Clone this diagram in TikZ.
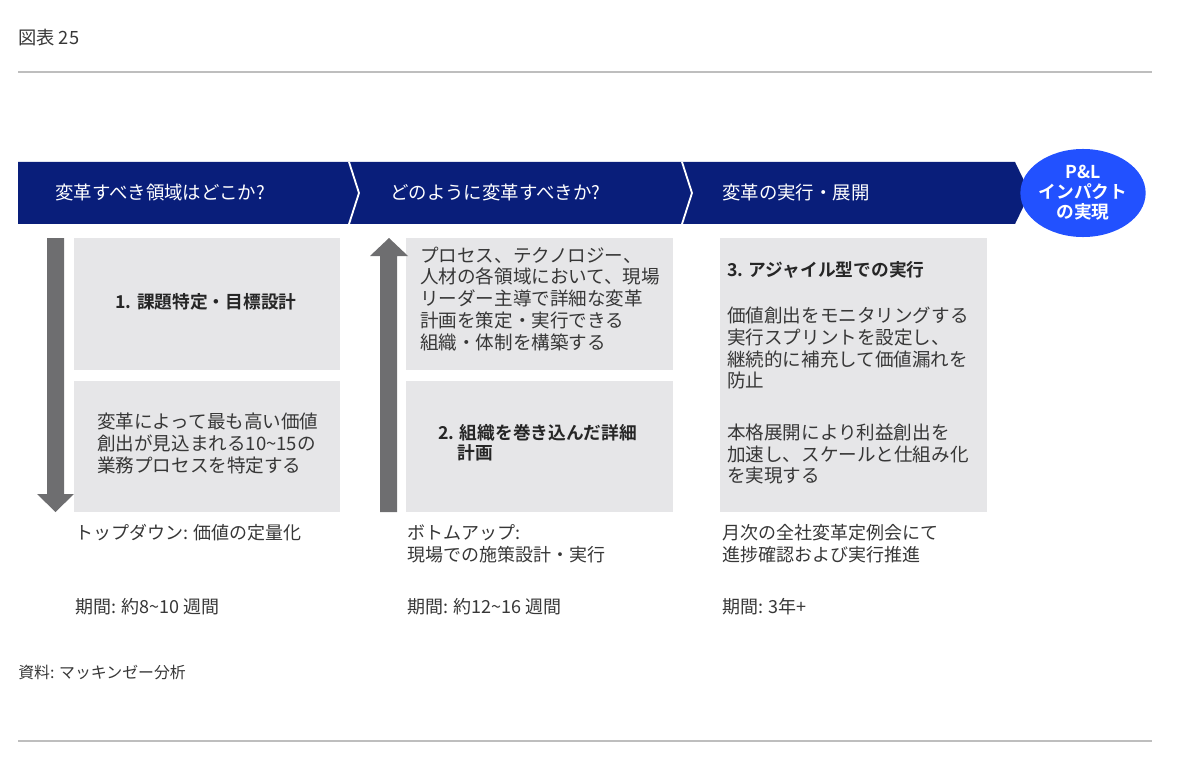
\documentclass[tikz,border=0pt]{standalone}
\usepackage{fontspec}
\setmainfont{Noto Sans CJK JP}[BoldFont={Noto Sans CJK JP Bold}]
\usepackage{tikz}
\usetikzlibrary{shapes,arrows,positioning}

\definecolor{navy}{RGB}{9,30,122}
\definecolor{eblue}{RGB}{34,81,255}
\definecolor{boxgray}{RGB}{230,230,232}
\definecolor{arrowgray}{RGB}{110,110,112}
\definecolor{txtgray}{RGB}{55,55,55}
\definecolor{rulegray}{RGB}{190,190,190}

\begin{document}
\begin{tikzpicture}[x=0.025cm,y=-0.025cm]
				\tikzstyle{Box}		= [fill=boxgray, inner sep=0pt]
				\tikzstyle{Body}	= [inner sep=0pt, anchor=west, align=left, text=txtgray, font=\fontsize{13.2}{15.6}\selectfont]
				\tikzstyle{Title}	= [Body, text=black!85, font=\bfseries\fontsize{12.6}{14.4}\selectfont]
				\tikzstyle{Head}	= [inner sep=0pt, anchor=west, text=white, font=\fontsize{13.1}{15}\selectfont]
				\tikzstyle{Foot}	= [Body, font=\fontsize{12.8}{15.6}\selectfont]
				\tikzstyle{Arrow}	= [fill=arrowgray]
				\tikzstyle{Rule}	= [rulegray, line width=0.8pt]

				\useasboundingbox (0,0) rectangle (1200,774);

				\node (fig) at (18,38) [Foot, font=\fontsize{13}{14}\selectfont] {図表 25};
				\draw[Rule] (18,72) -- (1152,72);
				\draw[Rule] (18,741) -- (1152,741);

				% band
				\fill[navy] (18,162) -- (1015,162) -- (1030,193) -- (1015,224) -- (18,224) -- cycle;
				\draw[white, line width=1.3pt] (349,162) -- (359,193) -- (349,224);
				\draw[white, line width=1.3pt] (682,162) -- (692,193) -- (682,224);
				\node (h1) at (55,193) [Head] {変革すべき領域はどこか?};
				\node (h2) at (390,193) [Head] {どのように変革すべきか?};
				\node (h3) at (722,193) [Head] {変革の実行・展開};
				\node (pl) at (1083,193) [ellipse, fill=eblue, minimum width=2.85cm, minimum height=2.2cm, inner sep=0pt,
					text=white, align=center, font=\bfseries\fontsize{12.6}{14.2}\selectfont] {P\&L\\インパクト\\の実現};

				% column 1
				\node (b1) at (207,304) [Box, minimum width=6.65cm, minimum height=3.3cm] {};
				\node (b2) at (207,446.5) [Box, minimum width=6.65cm, minimum height=3.275cm] {};
				\fill[Arrow] (47,238) -- (64,238) -- (64,494) -- (74,494) -- (55.5,512) -- (37,494) -- (47,494) -- cycle;
				\node (t1) at (206,302) [Title, anchor=center] {1. 課題特定・目標設計};
				\node (t2) at (97,443.5) [Body] {変革によって最も高い価値\\創出が見込まれる10\textasciitilde 15の\\業務プロセスを特定する};
				\node (f1) at (75,533) [Foot] {トップダウン: 価値の定量化};
				\node (d1) at (75,607) [Foot] {期間: 約8\textasciitilde 10 週間};

				% column 2
				\node (b3) at (539.5,304) [Box, minimum width=6.65cm, minimum height=3.3cm] {};
				\node (b4) at (539.5,446.5) [Box, minimum width=6.65cm, minimum height=3.275cm] {};
				\fill[Arrow] (380,512) -- (397,512) -- (397,256) -- (408,256) -- (389,238) -- (370,256) -- (380,256) -- cycle;
				\node (t3) at (420,299) [Body] {プロセス、テクノロジー、\\人材の各領域において、現場\\リーダー主導で詳細な変革\\計画を策定・実行できる\\組織・体制を構築する};
				\node (t4) at (438,443) [Title] {2. 組織を巻き込んだ詳細\\\hspace*{14pt}計画};
				\node (f2) at (407,544) [Foot] {ボトムアップ:\\現場での施策設計・実行};
				\node (d2) at (407,607) [Foot] {期間: 約12\textasciitilde 16 週間};

				% column 3
				\node (b5) at (853.5,375) [Box, minimum width=6.675cm, minimum height=6.85cm] {};
				\node (t5) at (727,270) [Title] {3. アジャイル型での実行};
				\node (t6) at (727,348) [Body] {価値創出をモニタリングする\\実行スプリントを設定し、\\継続的に補充して価値漏れを\\防止};
				\node (t7) at (727,454) [Body] {本格展開により利益創出を\\加速し、スケールと仕組み化\\を実現する};
				\node (f3) at (722,544) [Foot] {月次の全社変革定例会にて\\進捗確認および実行推進};
				\node (d3) at (722,607) [Foot] {期間: 3年+};

				\node (src) at (18,672) [Foot, font=\fontsize{11.3}{13}\selectfont] {資料: マッキンゼー分析};

			\end{tikzpicture}
\end{document}
